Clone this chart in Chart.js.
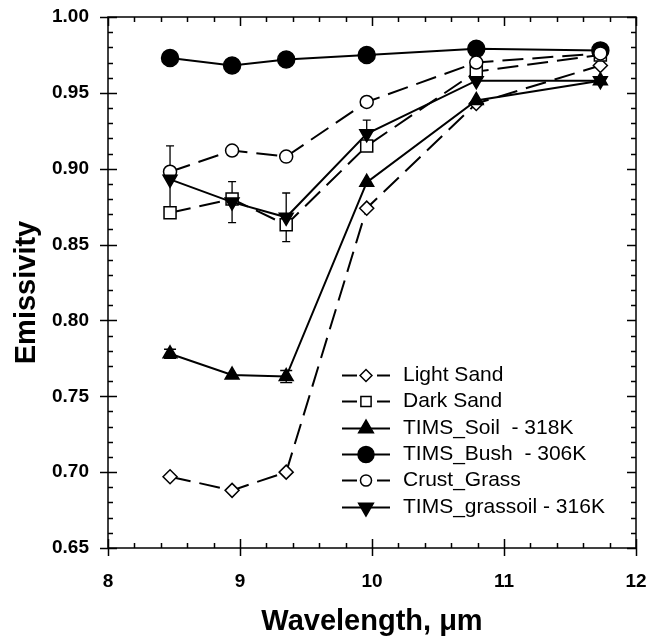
<!DOCTYPE html>
<html>
<head>
<meta charset="utf-8">
<script src="https://cdn.jsdelivr.net/npm/chart.js@4.4.1/dist/chart.umd.min.js"></script>
<style>
html,body{margin:0;padding:0;background:#ffffff;}
#wrap{width:649px;height:639px;position:relative;}
</style>
</head>
<body>
<div id="wrap"><canvas id="c"></canvas></div>
<script>
// ---- data ----
const wavelengths   = [8.47, 8.94, 9.35, 9.96, 10.79, 11.73];
const lightSand     = [0.697, 0.688, 0.700, 0.874, 0.943, 0.968];
const darkSand      = [0.871, 0.880, 0.863, 0.915, 0.964, 0.975];
const timsSoil      = [0.778, 0.764, 0.763, 0.891, 0.945, 0.958];
const timsBush      = [0.973, 0.968, 0.972, 0.975, 0.979, 0.978];
const crustGrass    = [0.898, 0.912, 0.908, 0.944, 0.970, 0.976];
const timsGrassoil  = [0.893, 0.878, 0.868, 0.923, 0.958, 0.958];
const timsSoilErr     = [0.003, 0, 0.004, 0, 0, 0];
const timsGrassoilErr = [0.022, 0.0135, 0.016, 0.009, 0, 0];
const seriesNames = ['Light Sand', 'Dark Sand', 'TIMS_Soil  - 318K', 'TIMS_Bush  - 306K', 'Crust_Grass', 'TIMS_grassoil - 316K'];
const xTickValues = [8, 9, 10, 11, 12];
const yTickValues = [0.65, 0.70, 0.75, 0.80, 0.85, 0.90, 0.95, 1.00];
const xTitle = 'Wavelength, \u03bcm';
const yTitle = 'Emissivity';

const FONT = '"Liberation Sans", Arial, Helvetica, sans-serif';
const DASH = [21, 9];

function pts(ys) { return wavelengths.map((x, i) => ({ x: x, y: ys[i] })); }

const styles = [
  { data: lightSand,    dash: DASH, pointStyle: 'rectRot',  radius: 7,   fill: '#ffffff', rot: 0 },
  { data: darkSand,     dash: DASH, pointStyle: 'rect',     radius: 8.5, fill: '#ffffff', rot: 0 },
  { data: timsSoil,     dash: [],   pointStyle: 'triangle', radius: 8,   fill: '#000000', rot: 0, err: timsSoilErr, cap: 6 },
  { data: timsBush,     dash: [],   pointStyle: 'circle',   radius: 8.5, fill: '#000000', rot: 0 },
  { data: crustGrass,   dash: DASH, pointStyle: 'circle',   radius: 6.5, fill: '#ffffff', rot: 0 },
  { data: timsGrassoil, dash: [],   pointStyle: 'triangle', radius: 8,   fill: '#000000', rot: 180, err: timsGrassoilErr, cap: 4 }
];

const datasets = styles.map((s, i) => ({
  label: seriesNames[i],
  data: pts(s.data),
  showLine: true,
  borderColor: '#000000',
  borderWidth: 2,
  borderDash: s.dash,
  pointStyle: s.pointStyle,
  pointRadius: s.radius,
  pointHoverRadius: s.radius,
  pointRotation: s.rot,
  pointBackgroundColor: s.fill,
  pointBorderColor: '#000000',
  pointBorderWidth: 1.5,
  tension: 0,
  fill: false,
  order: 5 - i,
  errors: s.err || null,
  errCap: s.cap || 4
}));

// frame + inward ticks + rotated y title
const framePlugin = {
  id: 'frame',
  afterDatasetsDraw(chart) {
    const { ctx, chartArea: a, scales: { x, y } } = chart;
    ctx.save();
    ctx.strokeStyle = '#000';
    ctx.lineWidth = 1.5;
    ctx.setLineDash([]);
    ctx.strokeRect(a.left, a.top, a.right - a.left, a.bottom - a.top);
    ctx.beginPath();
    for (let k = 0; k <= 20; k++) {
      const v = 8 + k * 0.2;
      const px = Math.round(x.getPixelForValue(v)) + 0.5;
      const major = k % 5 === 0;
      if (major) {
        ctx.moveTo(px, a.bottom - 9); ctx.lineTo(px, a.bottom + 8);
        ctx.moveTo(px, a.top); ctx.lineTo(px, a.top + 9);
      } else {
        ctx.moveTo(px, a.bottom - 5); ctx.lineTo(px, a.bottom);
        ctx.moveTo(px, a.top); ctx.lineTo(px, a.top + 5);
      }
    }
    for (let k = 0; k <= 35; k++) {
      const v = 0.65 + k * 0.01;
      const py = Math.round(y.getPixelForValue(v)) + 0.5;
      const major = k % 5 === 0;
      if (major) {
        ctx.moveTo(a.left - 8, py); ctx.lineTo(a.left + 9, py);
        ctx.moveTo(a.right - 9, py); ctx.lineTo(a.right, py);
      } else {
        ctx.moveTo(a.left, py); ctx.lineTo(a.left + 5, py);
        ctx.moveTo(a.right - 5, py); ctx.lineTo(a.right, py);
      }
    }
    ctx.stroke();
    // y-axis title
    ctx.translate(35, (a.top + a.bottom) / 2 + 10);
    ctx.rotate(-Math.PI / 2);
    ctx.font = 'bold 29px ' + FONT;
    ctx.fillStyle = '#000';
    ctx.textAlign = 'center';
    ctx.textBaseline = 'alphabetic';
    ctx.fillText(yTitle, 0, 0);
    ctx.restore();
  }
};

// error bars
const errorPlugin = {
  id: 'errbars',
  beforeDatasetsDraw(chart) {
    const { ctx, scales: { x, y } } = chart;
    ctx.save();
    ctx.strokeStyle = '#000';
    ctx.lineWidth = 1.3;
    ctx.setLineDash([]);
    chart.data.datasets.forEach(ds => {
      if (!ds.errors) return;
      ds.data.forEach((p, i) => {
        const e = ds.errors[i];
        if (!e) return;
        const px = x.getPixelForValue(p.x);
        const top = y.getPixelForValue(p.y + e);
        const bot = y.getPixelForValue(p.y - e);
        const c = ds.errCap;
        ctx.beginPath();
        ctx.moveTo(px, top); ctx.lineTo(px, bot);
        ctx.moveTo(px - c, top); ctx.lineTo(px + c, top);
        ctx.moveTo(px - c, bot); ctx.lineTo(px + c, bot);
        ctx.stroke();
      });
    });
    ctx.restore();
  }
};

function drawMarker(ctx, ds, cx, cy) {
  const r = ds.pointRadius;
  ctx.save();
  ctx.setLineDash([]);
  ctx.lineWidth = ds.pointBorderWidth;
  ctx.strokeStyle = ds.pointBorderColor;
  ctx.fillStyle = ds.pointBackgroundColor;
  ctx.beginPath();
  if (ds.pointStyle === 'circle') {
    ctx.arc(cx, cy, r, 0, Math.PI * 2);
  } else if (ds.pointStyle === 'rect') {
    const s = r * Math.SQRT1_2;
    ctx.rect(cx - s, cy - s, 2 * s, 2 * s);
  } else if (ds.pointStyle === 'rectRot') {
    ctx.moveTo(cx - r, cy); ctx.lineTo(cx, cy - r); ctx.lineTo(cx + r, cy); ctx.lineTo(cx, cy + r); ctx.closePath();
  } else if (ds.pointStyle === 'triangle') {
    const sgn = ds.pointRotation === 180 ? -1 : 1;
    const w = r * Math.sqrt(3) / 2;
    ctx.moveTo(cx, cy - sgn * r);
    ctx.lineTo(cx - w, cy + sgn * r / 2);
    ctx.lineTo(cx + w, cy + sgn * r / 2);
    ctx.closePath();
  }
  ctx.fill();
  ctx.stroke();
  ctx.restore();
}

// legend inside plot area
const legendPlugin = {
  id: 'insideLegend',
  afterDraw(chart) {
    const { ctx, chartArea: a } = chart;
    const x0 = a.left + 234, x1 = a.left + 282, xm = (x0 + x1) / 2, tx = a.left + 295;
    const y0 = a.top + 358, dy = 26.3;
    ctx.save();
    ctx.font = '21px ' + FONT;
    ctx.textBaseline = 'middle';
    ctx.textAlign = 'left';
    ctx.fillStyle = '#000';
    chart.data.datasets.forEach((ds, i) => {
      const yy = Math.round(y0 + i * dy) + 0.5;
      ctx.strokeStyle = '#000';
      ctx.lineWidth = 2;
      ctx.setLineDash([]);
      ctx.beginPath();
      if (ds.borderDash && ds.borderDash.length) {
        ctx.moveTo(x0, yy); ctx.lineTo(xm - 9, yy);
        ctx.moveTo(xm + 11, yy); ctx.lineTo(x1, yy);
      } else {
        ctx.moveTo(x0, yy); ctx.lineTo(x1, yy);
      }
      ctx.stroke();
      const lr = ds.pointStyle === 'circle' && ds.pointBackgroundColor === '#000000' ? 8 : (ds.pointStyle === 'triangle' ? 8.5 : ds.pointRadius * 0.85);
      drawMarker(ctx, Object.assign({}, ds, { pointRadius: lr }), xm, yy);
      ctx.fillText(ds.label, tx, yy);
    });
    ctx.restore();
  }
};

new Chart(document.getElementById('c'), {
  type: 'scatter',
  data: { datasets: datasets },
  options: {
    responsive: true,
    maintainAspectRatio: false,
    animation: false,
    events: [],
    layout: { padding: { left: 0, right: 13, top: 17, bottom: 0 } },
    plugins: { legend: { display: false }, tooltip: { enabled: false } },
    scales: {
      x: {
        type: 'linear', min: 8, max: 12,
        afterBuildTicks(s) { s.ticks = xTickValues.map(v => ({ value: v })); },
        afterFit(s) { s.height = 91; s.paddingLeft = 0; s.paddingRight = 0; },
        grid: { display: false, drawTicks: false },
        border: { display: false },
        ticks: { color: '#000', padding: 22, font: { family: FONT, size: 19, weight: 'bold' }, maxRotation: 0,
                 callback: v => String(v) },
        title: { display: true, text: xTitle, color: '#000', padding: { top: 0, bottom: 0 },
                 font: { family: FONT, size: 29, weight: 'bold' } }
      },
      y: {
        type: 'linear', min: 0.65, max: 1.0,
        afterBuildTicks(s) { s.ticks = yTickValues.map(v => ({ value: v })); },
        afterFit(s) { s.width = 108; s.paddingTop = 0; s.paddingBottom = 0; },
        grid: { display: false, drawTicks: false },
        border: { display: false },
        ticks: { color: '#000', padding: 19, font: { family: FONT, size: 19, weight: 'bold' },
                 callback: v => Number(v).toFixed(2) },
        title: { display: false, text: yTitle }
      }
    }
  },
  plugins: [errorPlugin, framePlugin, legendPlugin]
});
</script>
</body>
</html>
